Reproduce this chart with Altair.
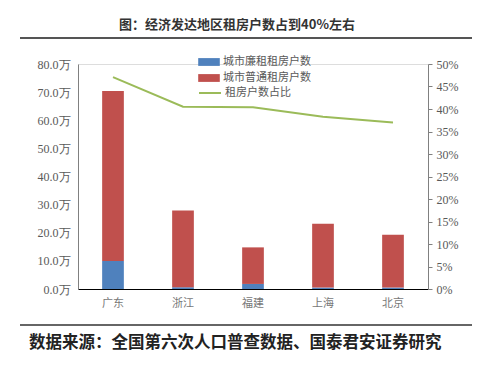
import altair as alt
import pandas as pd

regions = ["广东", "浙江", "福建", "上海", "北京"]
low_rent = [10.0, 0.6, 1.8, 0.5, 0.5]          # 城市廉租租房户数 (万)
normal_rent = [60.4, 27.3, 13.0, 22.7, 18.8]   # 城市普通租房户数 (万)
share = [0.471, 0.405, 0.404, 0.383, 0.370]    # 租房户数占比

s_low = "城市廉租租房户数"
s_norm = "城市普通租房户数"
s_line = "租房户数占比"

bar_rows = []
for i, r in enumerate(regions):
    bar_rows.append({"region": r, "series": s_low, "value": low_rent[i], "order": 0})
    bar_rows.append({"region": r, "series": s_norm, "value": normal_rent[i], "order": 1})
bars_df = pd.DataFrame(bar_rows)
line_df = pd.DataFrame({"region": regions, "share": share, "series": [s_line] * len(regions)})

serif = "Liberation Serif, Times New Roman, serif"
cjk = "Noto Sans CJK SC"
grey = "#595959"

xenc = alt.X("region:N", sort=regions, title=None,
             scale=alt.Scale(paddingInner=0.69, paddingOuter=0.345),
             axis=alt.Axis(labelAngle=0, labelFont=cjk, labelFontSize=11, labelColor="#777777",
                           domainColor="#000000", domainWidth=1.2, ticks=False, labelPadding=8))

bars = alt.Chart(bars_df).mark_bar().encode(
    x=xenc,
    y=alt.Y("value:Q", stack="zero", title=None,
            scale=alt.Scale(domain=[0, 80]),
            axis=alt.Axis(values=[0, 10, 20, 30, 40, 50, 60, 70, 80],
                          labelExpr="format(datum.value, '.1f') + '万'",
                          labelFont=serif, labelFontSize=12, labelColor=grey,
                          grid=False, ticks=False, domainColor="#808080", labelPadding=8)),
    fill=alt.Fill("series:N", scale=alt.Scale(domain=[s_low, s_norm], range=["#4F81BD", "#C0504D"]),
                  legend=alt.Legend(title=None, orient="none", legendX=125, legendY=-8,
                                    symbolType="M-1.8,-0.65L1.8,-0.65L1.8,0.65L-1.8,0.65Z",
                                    symbolSize=144,
                                    symbolStrokeWidth=0, labelFont=cjk, labelFontSize=11,
                                    labelColor=grey, rowPadding=5, labelOffset=8)),
    order=alt.Order("order:Q"),
)

line = alt.Chart(line_df).mark_line(strokeWidth=2).encode(
    x=alt.X("region:N", sort=regions),
    y=alt.Y("share:Q", title=None, scale=alt.Scale(domain=[0, 0.5]),
            axis=alt.Axis(orient="right", values=[0, 0.05, 0.1, 0.15, 0.2, 0.25, 0.3, 0.35, 0.4, 0.45, 0.5],
                          format=".0%", labelFont=serif, labelFontSize=12, labelColor=grey,
                          grid=False, domainColor="#808080", tickColor="#808080", tickSize=4,
                          labelPadding=4)),
    stroke=alt.Stroke("series:N", scale=alt.Scale(domain=[s_line], range=["#9BBB59"]),
                      legend=alt.Legend(title=None, orient="none", legendX=120, legendY=17,
                                        symbolType="stroke", symbolSize=484, symbolStrokeWidth=2,
                                        labelFont=cjk, labelFontSize=11, labelColor=grey,
                                        labelOffset=3)),
)

title_text = alt.Chart(pd.DataFrame({"t": ["图：经济发达地区租房户数占到40%左右"]})).mark_text(
    font=cjk, fontSize=13, fontWeight="bold", color="#333333", align="center", baseline="middle"
).encode(x=alt.value(159), y=alt.value(-39), text="t:N")

source_text = alt.Chart(pd.DataFrame({"t": ["数据来源：全国第六次人口普查数据、国泰君安证券研究"]})).mark_text(
    font=cjk, fontSize=16.5, fontWeight="bold", color="#222222", align="left", baseline="middle"
).encode(x=alt.value(-49), y=alt.value(279), text="t:N")

top_rule = alt.Chart(pd.DataFrame({"a": [0]})).mark_rule(color="#555555", strokeWidth=2).encode(
    x=alt.value(-58), x2=alt.value(394), y=alt.value(-26))
bottom_rule = alt.Chart(pd.DataFrame({"a": [0]})).mark_rule(color="#333333", strokeWidth=1.5).encode(
    x=alt.value(-58), x2=alt.value(394), y=alt.value(261))

chart = alt.layer(bars, line, title_text, source_text, top_rule, bottom_rule).resolve_scale(
    y="independent", fill="independent", stroke="independent"
).properties(
    width=350, height=225,
    autosize=alt.AutoSizeParams(type="none"),
    padding={"left": 70, "top": 56, "right": 64, "bottom": 71},
).configure_view(stroke=None).configure(background="white")

chart.save("out.html", embed_options={"renderer": "svg", "actions": False})
